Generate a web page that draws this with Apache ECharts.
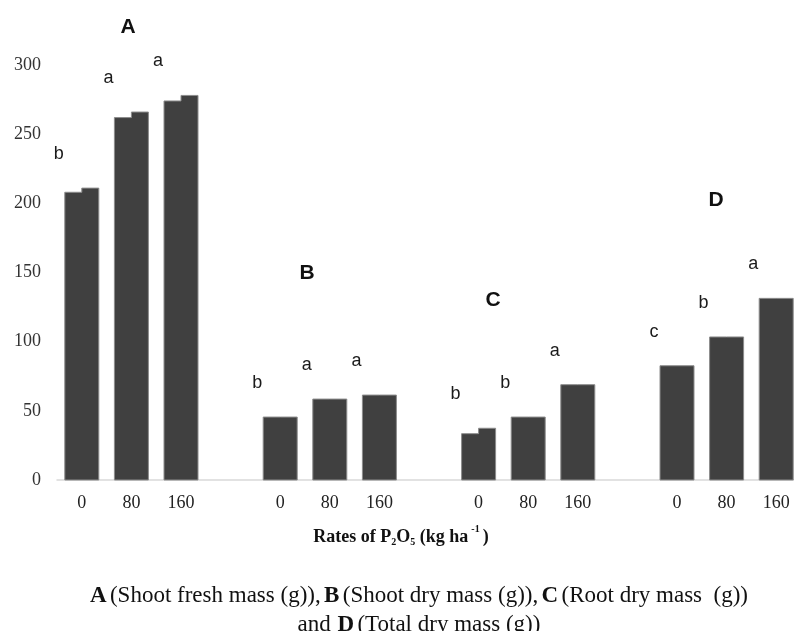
<!DOCTYPE html>
<html><head><meta charset="utf-8">
<script src="https://cdn.jsdelivr.net/npm/echarts@6/dist/echarts.min.js"></script>
<style>html,body{margin:0;padding:0;background:#fff;overflow:hidden;width:794px;height:631px}#c{width:808px;height:631px}</style>
</head><body><div id="c"></div>
<script>
// ---- data ----
const groupNames = ['A', 'B', 'C', 'D'];
const rates = ['0', '80', '160'];
const shootFreshMass = [211, 266, 278];       // A (right / top edge)
const shootFreshMassStep = [208, 262, 274];   // A left edge of stepped top
const shootDryMass = [45.5, 58.5, 61.4];      // B
const shootDryMassStep = [null, null, null];
const rootDryMass = [37.4, 45.5, 68.9];       // C
const rootDryMassStep = [33.5, null, null];
const totalDryMass = [82.6, 103.4, 131.3];    // D
const totalDryMassStep = [null, null, null];
const lettersA = ['b', 'a', 'a'];
const lettersB = ['b', 'a', 'a'];
const lettersC = ['b', 'b', 'a'];
const lettersD = ['c', 'b', 'a'];
const yTicks = [0, 50, 100, 150, 200, 250, 300];

// ---- build ----
const groupValues = [shootFreshMass, shootDryMass, rootDryMass, totalDryMass];
const groupSteps = [shootFreshMassStep, shootDryMassStep, rootDryMassStep, totalDryMassStep];
const groupLetters = [lettersA, lettersB, lettersC, lettersD];
const categories = [];
const rows = [];
const letters = [];
groupNames.forEach((g, gi) => {
  rates.forEach((r, ri) => {
    const idx = categories.length;
    categories.push(r);
    const v = groupValues[gi][ri];
    const s = groupSteps[gi][ri];
    rows.push([idx, v, s == null ? v : s]);
    letters.push(groupLetters[gi][ri]);
  });
  if (gi < groupNames.length - 1) categories.push('');
});

function renderItem(params, api) {
  const idx = api.value(0);
  const vR = api.value(1), vL = api.value(2);
  const base = api.coord([idx, 0]);
  const pR = api.coord([idx, vR]);
  const pL = api.coord([idx, vL]);
  const w = 34;
  const x0 = base[0] - w / 2, x1 = base[0] + w / 2, xs = x0 + w * 0.5;
  const pts = [[x0, base[1]], [x0, pL[1]], [xs, pL[1]], [xs, pR[1]], [x1, pR[1]], [x1, base[1]]];
  return {
    type: 'group',
    children: [
      { type: 'polygon', shape: { points: pts },
        style: { fill: '#404040', stroke: '#8c8c8c', lineWidth: 1 } },
      { type: 'text', style: { text: letters[params.dataIndex], x: base[0] - 23, y: pR[1] - 34,
          align: 'center', verticalAlign: 'middle', font: '18px "Liberation Sans", Arial', fill: '#1a1a1a' } }
    ]
  };
}

const serif = '"Liberation Serif", "Times New Roman", serif';
const chart = echarts.init(document.getElementById('c'), null, { renderer: 'canvas' });
chart.setOption({
  animation: false,
  backgroundColor: '#fff',
  grid: { left: 57, top: 65, width: 744, height: 415 },
  xAxis: {
    type: 'category', data: categories,
    axisLine: { show: true, lineStyle: { color: '#d9d9d9', width: 1.5 } },
    axisTick: { show: false },
    axisLabel: { interval: 0, margin: 14, fontFamily: serif, fontSize: 18, color: '#222' }
  },
  yAxis: {
    type: 'value', min: yTicks[0], max: yTicks[yTicks.length - 1], interval: 50,
    axisLine: { show: false }, axisTick: { show: false }, splitLine: { show: false },
    axisLabel: { margin: 16, fontFamily: serif, fontSize: 18, color: '#333' }
  },
  graphic: [
    { type: 'text', x: 128, y: 27, style: { text: 'A', align: 'center', verticalAlign: 'middle', font: 'bold 21px "Liberation Sans", Arial', fill: '#111' } },
    { type: 'text', x: 307, y: 273, style: { text: 'B', align: 'center', verticalAlign: 'middle', font: 'bold 21px "Liberation Sans", Arial', fill: '#111' } },
    { type: 'text', x: 493, y: 300, style: { text: 'C', align: 'center', verticalAlign: 'middle', font: 'bold 21px "Liberation Sans", Arial', fill: '#111' } },
    { type: 'text', x: 716, y: 200, style: { text: 'D', align: 'center', verticalAlign: 'middle', font: 'bold 21px "Liberation Sans", Arial', fill: '#111' } },
    { type: 'text', x: 401, y: 537, style: {
        text: '{t|Rates of P}{sub|2}{t|O}{sub|5}{t| (kg ha}{sup|-1}{t|)}',
        align: 'center', verticalAlign: 'middle',
        rich: {
          t: { fontFamily: serif, fontWeight: 'bold', fontSize: 18, fill: '#111' },
          sub: { fontFamily: serif, fontWeight: 'bold', fontSize: 10, fill: '#111', padding: [10, 0, 0, 0] },
          sup: { fontFamily: serif, fontWeight: 'bold', fontSize: 10, fill: '#111', padding: [0, 3, 16, 3] }
        } } },
    { type: 'text', x: 419, y: 596, style: {
        text: '{b|A} {t|(Shoot fresh mass (g)),} {b|B} {t|(Shoot dry mass (g)),} {b|C} {t|(Root dry mass  (g))}',
        align: 'center', verticalAlign: 'middle',
        rich: { b: { font: 'bold 23px "Liberation Serif", serif', fill: '#111' }, t: { font: '23px "Liberation Serif", serif', fill: '#111' } } } },
    { type: 'text', x: 419, y: 625, style: {
        text: '{t|and}  {b|D} {t|(Total dry mass (g))}',
        align: 'center', verticalAlign: 'middle',
        rich: { b: { font: 'bold 23px "Liberation Serif", serif', fill: '#111' }, t: { font: '23px "Liberation Serif", serif', fill: '#111' } } } }
  ],
  series: [{
    type: 'custom', renderItem: renderItem, data: rows,
    encode: { x: 0, y: [1, 2] }, clip: false
  }]
});
</script></body></html>
